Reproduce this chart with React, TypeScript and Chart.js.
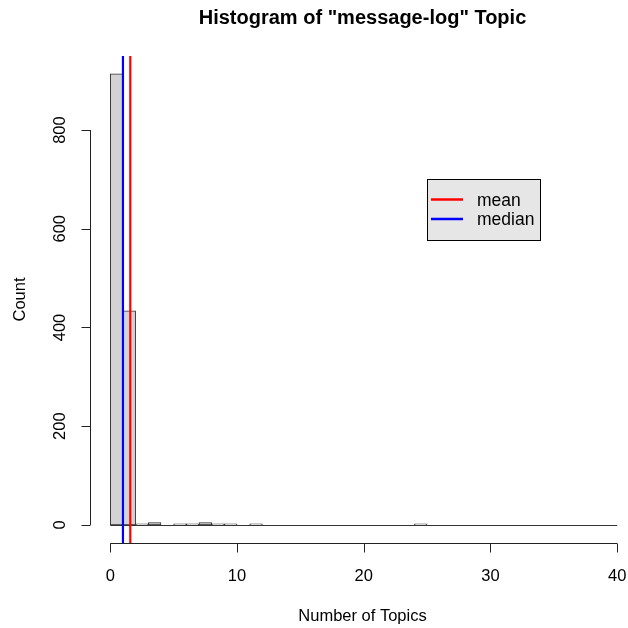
import React, { useEffect, useRef } from "react";
import { Chart, registerables } from "chart.js";

Chart.register(...registerables);

// Histogram bins (lower edges) and counts
const binStarts = [0,1,2,3,4,5,6,7,8,9,10,11,12,13,14,15,16,17,18,19,20,21,22,23,24,25,26,27,28,29,30,31,32,33,34,35,36,37,38,39];
const binCounts = [914,434,2,5,0,2,2,5,2,2,0,2,0,0,0,0,0,0,0,0,0,0,0,0,2,0,0,0,0,0,0,0,0,0,0,0,0,0,0,0];
const xTicks = [0, 10, 20, 30, 40];
const yTicks = [0, 200, 400, 600, 800];
const meanValue = 1.58;
const medianValue = 1.0;
const legendLabels = ["mean", "median"];
const legendColors = ["#ff0000", "#0000ff"];
const titleText = 'Histogram of "message-log" Topic';
const xTitle = "Number of Topics";
const yTitle = "Count";

const FONT = '"Liberation Sans", Arial, sans-serif';

const rPlugin = {
  id: "rstyle",
  afterDatasetsDraw(chart: any) {
    const ctx = chart.ctx;
    const xs = chart.scales.x;
    const ys = chart.scales.y;
    const area = chart.chartArea;
    ctx.save();
    // baseline of histogram (zero-height bins)
    ctx.strokeStyle = "#333";
    ctx.lineWidth = 1;
    ctx.beginPath();
    const y0 = Math.round(ys.getPixelForValue(0)) + 0.5;
    ctx.moveTo(xs.getPixelForValue(binStarts[0]), y0);
    ctx.lineTo(xs.getPixelForValue(binStarts[binStarts.length - 1] + 1), y0);
    ctx.stroke();

    // mean / median lines
    ctx.save();
    ctx.beginPath();
    ctx.rect(area.left, area.top, area.right - area.left, area.bottom - area.top);
    ctx.clip();
    ctx.lineWidth = 2.2;
    [[meanValue, legendColors[0]], [medianValue, legendColors[1]]].forEach(([v, c]: any) => {
      const px = xs.getPixelForValue(v);
      ctx.strokeStyle = c;
      ctx.beginPath();
      ctx.moveTo(px, area.top);
      ctx.lineTo(px, area.bottom);
      ctx.stroke();
    });
    ctx.restore();

    // x axis
    ctx.strokeStyle = "#222";
    ctx.fillStyle = "#000";
    ctx.lineWidth = 1;
    const ax = Math.round(area.bottom) + 0.5;
    ctx.beginPath();
    ctx.moveTo(xs.getPixelForValue(xTicks[0]), ax);
    ctx.lineTo(xs.getPixelForValue(xTicks[xTicks.length - 1]), ax);
    xTicks.forEach((t) => {
      const px = Math.round(xs.getPixelForValue(t)) + 0.5;
      ctx.moveTo(px, ax);
      ctx.lineTo(px, ax + 9);
    });
    ctx.stroke();
    ctx.font = `16.5px ${FONT}`;
    ctx.textAlign = "center";
    ctx.textBaseline = "middle";
    xTicks.forEach((t) => {
      ctx.fillText(String(t), xs.getPixelForValue(t), 576);
    });
    ctx.fillText(xTitle, 362.5, 616);

    // y axis
    const ay = Math.round(area.left) + 0.5;
    ctx.beginPath();
    ctx.moveTo(ay, ys.getPixelForValue(yTicks[0]));
    ctx.lineTo(ay, ys.getPixelForValue(yTicks[yTicks.length - 1]));
    yTicks.forEach((t) => {
      const py = Math.round(ys.getPixelForValue(t)) + 0.5;
      ctx.moveTo(ay, py);
      ctx.lineTo(ay - 9, py);
    });
    ctx.stroke();
    yTicks.forEach((t) => {
      ctx.save();
      ctx.translate(60, ys.getPixelForValue(t));
      ctx.rotate(-Math.PI / 2);
      ctx.fillText(String(t), 0, 0);
      ctx.restore();
    });
    ctx.save();
    ctx.translate(20, (area.top + area.bottom) / 2);
    ctx.rotate(-Math.PI / 2);
    ctx.fillText(yTitle, 0, 0);
    ctx.restore();

    // title
    ctx.font = `bold 20px ${FONT}`;
    ctx.fillText(titleText, 362.5, 18);

    // legend
    ctx.fillStyle = "#e6e6e6";
    ctx.fillRect(427, 179, 114, 62);
    ctx.strokeStyle = "#000";
    ctx.lineWidth = 1;
    ctx.strokeRect(427.5, 179.5, 113, 61);
    ctx.font = `17.5px ${FONT}`;
    ctx.textAlign = "left";
    legendLabels.forEach((lab, i) => {
      const ly = 199.5 + i * 19.5;
      ctx.strokeStyle = legendColors[i];
      ctx.lineWidth = 2.5;
      ctx.beginPath();
      ctx.moveTo(431, ly);
      ctx.lineTo(463, ly);
      ctx.stroke();
      ctx.fillStyle = "#000";
      ctx.fillText(lab, 477, ly + 1.5);
    });
    ctx.restore();
  },
};

export default function App() {
  const ref = useRef<HTMLCanvasElement>(null);
  useEffect(() => {
    if (!ref.current) return;
    const chart = new Chart(ref.current, {
      type: "bar",
      data: {
        datasets: [
          {
            data: binStarts.map((s, i) => ({ x: s + 0.5, y: binCounts[i] })),
            backgroundColor: "#d3d3d3",
            borderColor: "#333",
            borderWidth: 1,
            borderSkipped: false,
            barPercentage: 1,
            categoryPercentage: 1,
          },
        ],
      },
      options: {
        responsive: false,
        animation: false,
        devicePixelRatio: 1,
        layout: { padding: { left: 90, right: 0, top: 56, bottom: 85 } },
        plugins: { legend: { display: false }, title: { display: false }, tooltip: { enabled: false } },
        scales: {
          x: { type: "linear", min: -1.6, max: 40.85, offset: false, display: false, grid: { offset: false } },
          y: { type: "linear", min: -36.6, max: 950, display: false },
        },
      },
      plugins: [rPlugin],
    });
    return () => chart.destroy();
  }, []);
  return (
    <div style={{ position: "absolute", left: 0, top: 0, width: 628, height: 628, background: "#fff" }}>
      <canvas ref={ref} width={628} height={628} />
    </div>
  );
}
